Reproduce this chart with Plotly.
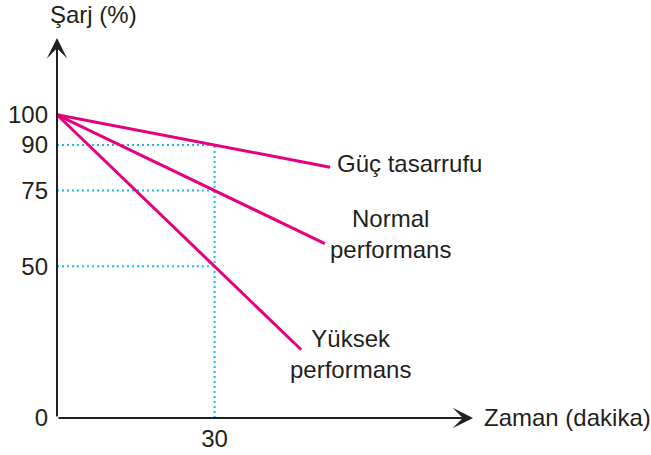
import plotly.graph_objects as go

# ---- data ----
series_names = ["Güç tasarrufu", "Normal performans", "Yüksek performans"]
series_labels = ["Güç tasarrufu", "Normal<br>performans", "Yüksek<br>performans"]
times = [[0, 30, 52], [0, 30, 51], [0, 30, 46.5]]
charges = [[100, 90, 82.7], [100, 75, 57.5], [100, 50, 22.5]]
ref_time = 30
ref_charges = [90, 75, 50]
y_ticks = [0, 50, 75, 90, 100]
x_ticks = [30]
x_title = "Zaman (dakika)"
y_title = "Şarj (%)"

MAGENTA = "#E6007E"
CYAN = "#1FB4F0"
INK = "#231F20"
FONT = "Liberation Sans, Arial, sans-serif"
FS = 24

fig = go.Figure()

# dotted guide lines
for c in ref_charges:
    fig.add_trace(go.Scatter(x=[0, ref_time], y=[c, c], mode="lines",
                             line=dict(color=CYAN, width=2, dash="2px,3px"),
                             hoverinfo="skip", showlegend=False))
fig.add_trace(go.Scatter(x=[ref_time, ref_time], y=[0, max(ref_charges)], mode="lines",
                         line=dict(color=CYAN, width=2, dash="2px,3px"),
                         hoverinfo="skip", showlegend=False))

# series lines
for name, t, c in zip(series_names, times, charges):
    fig.add_trace(go.Scatter(x=t, y=c, mode="lines", name=name,
                             line=dict(color=MAGENTA, width=3),
                             showlegend=False))

XMAX = 79.2
YMAX = 125.3

annotations = []
# axis arrows
annotations.append(dict(x=0, y=YMAX, ax=0, ay=0, xref="x", yref="y", axref="x", ayref="y",
                        text="", showarrow=True, arrowhead=3, arrowsize=1.7, arrowwidth=2,
                        arrowcolor=INK, standoff=0, startstandoff=0))
annotations.append(dict(x=XMAX, y=0, ax=0, ay=0, xref="x", yref="y", axref="x", ayref="y",
                        text="", showarrow=True, arrowhead=3, arrowsize=1.7, arrowwidth=2,
                        arrowcolor=INK, standoff=0, startstandoff=0))
# axis titles (paper coords so they may sit outside the plotting area)
annotations.append(dict(x=-9 / 416, y=(418 - 15) / 380, xref="paper", yref="paper", text=y_title,
                        showarrow=False, xanchor="left", yanchor="middle",
                        font=dict(size=FS, color=INK, family=FONT)))
annotations.append(dict(x=(482 - 57) / 416, y=1 / 380, xref="paper", yref="paper", text=x_title,
                        showarrow=False, xanchor="left", yanchor="middle",
                        font=dict(size=FS, color=INK, family=FONT)))
# series labels
label_pos = [(53.0, 83.9, "left"), (63.5, 60.8, "center"), (55.8, 21.0, "center")]
for lab, (lx, ly, anc) in zip(series_labels, label_pos):
    annotations.append(dict(x=lx, y=ly, xref="x", yref="y", text=lab, showarrow=False,
                            xanchor=anc, yanchor="middle", align="center",
                            font=dict(size=FS, color=INK, family=FONT)))

fig.update_layout(
    width=651, height=455,
    margin=dict(l=57, r=178, t=38, b=37, autoexpand=False),
    paper_bgcolor="white", plot_bgcolor="white",
    annotations=annotations,
    xaxis=dict(range=[0, XMAX], showgrid=False, zeroline=False, showline=False,
               tickvals=x_ticks, ticks="", ticklabelstandoff=4, automargin=False,
               tickfont=dict(size=FS, color=INK, family=FONT), fixedrange=True),
    yaxis=dict(range=[0, YMAX], showgrid=False, zeroline=False, showline=False,
               tickvals=y_ticks, ticks="", ticklabelstandoff=8, automargin=False,
               tickfont=dict(size=FS, color=INK, family=FONT), fixedrange=True),
)

fig.write_html("out.html", config={"displayModeBar": False},
               post_script="document.body.style.margin='0';")
